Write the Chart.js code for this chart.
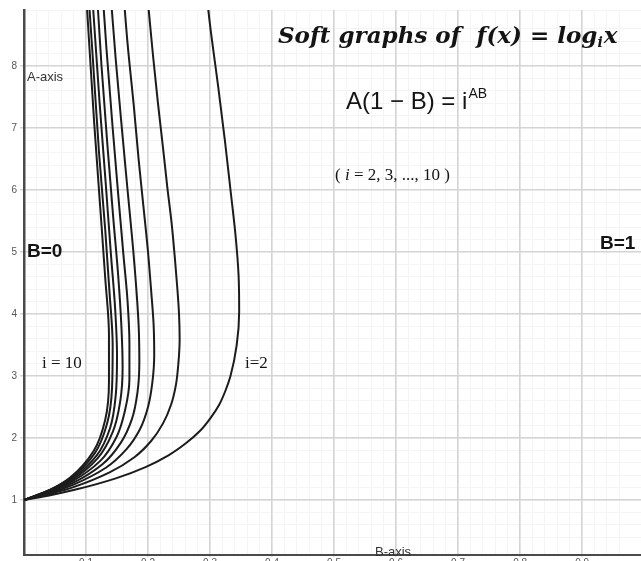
<!DOCTYPE html>
<html>
<head>
<meta charset="utf-8">
<script src="https://cdn.jsdelivr.net/npm/chart.js@4"></script>
<style>
  html, body { margin: 0; padding: 0; background: #fff; overflow: hidden; }
  #wrap { width: 641px; height: 561px; overflow: hidden; }
</style>
</head>
<body>
<div id="wrap"><canvas id="chart" width="641" height="575"></canvas></div>
<script>
// curves A(1 - B) = i^(AB): B (horizontal) and A (vertical)
const BASES = [2, 3, 4, 5, 6, 7, 8, 9, 10];

const B_I2 = [0, 0.046, 0.085, 0.148, 0.196, 0.233, 0.261, 0.284, 0.301, 0.315, 0.325, 0.333, 0.343, 0.347, 0.346, 0.341, 0.333, 0.324, 0.313, 0.300, 0.294];
const A_I2 = [1, 1.085, 1.172, 1.349, 1.531, 1.720, 1.914, 2.116, 2.325, 2.541, 2.766, 3.000, 3.497, 4.039, 4.631, 5.282, 6.000, 6.795, 7.678, 8.663, 9.198];

const B_I3 = [0, 0.045, 0.082, 0.138, 0.178, 0.205, 0.224, 0.237, 0.245, 0.249, 0.251, 0.250, 0.247, 0.243, 0.238, 0.231, 0.224, 0.216, 0.208, 0.200];
const A_I3 = [1, 1.106, 1.216, 1.446, 1.690, 1.952, 2.232, 2.533, 2.858, 3.208, 3.588, 4.000, 4.448, 4.937, 5.471, 6.056, 6.696, 7.400, 8.173, 9.025];

const B_I4 = [0, 0.045, 0.080, 0.132, 0.165, 0.187, 0.200, 0.207, 0.210, 0.209, 0.205, 0.200, 0.193, 0.185, 0.177, 0.167, 0.158];
const A_I4 = [1, 1.122, 1.249, 1.520, 1.816, 2.141, 2.500, 2.897, 3.339, 3.831, 4.382, 5.000, 5.695, 6.478, 7.363, 8.364, 9.500];

const B_I5 = [0, 0.044, 0.079, 0.127, 0.156, 0.174, 0.183, 0.186, 0.185, 0.181, 0.175, 0.167, 0.158, 0.148, 0.141];
const A_I5 = [1, 1.134, 1.275, 1.580, 1.921, 2.304, 2.736, 3.227, 3.785, 4.424, 5.157, 6.000, 6.973, 8.099, 8.991];

const B_I6 = [0, 0.044, 0.077, 0.123, 0.149, 0.163, 0.170, 0.170, 0.167, 0.160, 0.152, 0.143, 0.133, 0.128];
const A_I6 = [1, 1.144, 1.296, 1.631, 2.012, 2.448, 2.950, 3.530, 4.205, 4.993, 5.916, 7.000, 8.278, 9.001];

const B_I7 = [0, 0.043, 0.076, 0.119, 0.143, 0.155, 0.159, 0.157, 0.152, 0.144, 0.135, 0.125, 0.115];
const A_I7 = [1, 1.152, 1.315, 1.676, 2.093, 2.578, 3.146, 3.814, 4.605, 5.543, 6.662, 8.000, 9.603];

const B_I8 = [0, 0.043, 0.075, 0.117, 0.139, 0.148, 0.150, 0.147, 0.140, 0.132, 0.122, 0.111];
const A_I8 = [1, 1.160, 1.331, 1.716, 2.166, 2.697, 3.328, 4.082, 4.987, 6.078, 7.398, 9.000];

const B_I9 = [0, 0.043, 0.074, 0.114, 0.134, 0.142, 0.143, 0.138, 0.131, 0.121, 0.111, 0.105];
const A_I9 = [1, 1.166, 1.346, 1.752, 2.233, 2.808, 3.500, 4.337, 5.356, 6.600, 8.125, 9.014];

const B_I10 = [0, 0.043, 0.074, 0.112, 0.131, 0.137, 0.137, 0.131, 0.123, 0.113, 0.101];
const A_I10 = [1, 1.172, 1.359, 1.785, 2.295, 2.912, 3.662, 4.581, 5.712, 7.110, 9.038];

const CURVE_B = [B_I2, B_I3, B_I4, B_I5, B_I6, B_I7, B_I8, B_I9, B_I10];
const CURVE_A = [A_I2, A_I3, A_I4, A_I5, A_I6, A_I7, A_I8, A_I9, A_I10];

const X_TICKS = [0.1, 0.2, 0.3, 0.4, 0.5, 0.6, 0.7, 0.8, 0.9];
const Y_TICKS = [1, 2, 3, 4, 5, 6, 7, 8];

const datasets = BASES.map((base, k) => ({
  label: "i=" + base,
  data: CURVE_B[k].map((b, j) => ({ x: b, y: CURVE_A[k][j] })),
  borderColor: "#1c1c1c",
  borderWidth: 2,
  pointRadius: 0,
  cubicInterpolationMode: "monotone", // A grows along each curve, so smooth along y
  fill: false
}));

// text drawn on the sheet, like the geogebra labels
const labelPlugin = {
  id: "sheetLabels",
  afterDraw(chart) {
    const ctx = chart.ctx;
    ctx.save();
    ctx.fillStyle = "#141414";
    ctx.textBaseline = "alphabetic";
    ctx.textAlign = "left";

    // title
    let x = 278;
    ctx.font = "bold italic 23px 'DejaVu Serif'";
    const t1 = "Soft graphs of  f(x) = log";
    ctx.fillText(t1, x, 43);
    x += ctx.measureText(t1).width;
    ctx.font = "bold italic 14px 'DejaVu Serif'";
    ctx.fillText("i", x, 47);
    x += ctx.measureText("i").width + 1;
    ctx.font = "bold italic 23px 'DejaVu Serif'";
    ctx.fillText("x", x, 43);

    // equation
    x = 346;
    ctx.font = "24px 'Liberation Sans'";
    const e1 = "A(1 \u2212 B) = i";
    ctx.fillText(e1, x, 109);
    x += ctx.measureText(e1).width + 1;
    ctx.font = "14px 'Liberation Sans'";
    ctx.fillText("AB", x, 98);

    // ( i = 2, 3, ..., 10 )
    x = 335;
    ctx.font = "17px 'Liberation Serif'";
    ctx.fillText("( ", x, 180);
    x += ctx.measureText("( ").width;
    ctx.font = "italic 17px 'Liberation Serif'";
    ctx.fillText("i", x, 180);
    x += ctx.measureText("i").width;
    ctx.font = "17px 'Liberation Serif'";
    ctx.fillText(" = 2, 3, ..., 10 )", x, 180);

    ctx.font = "bold 19px 'Liberation Sans'";
    ctx.fillText("B=0", 27, 257);
    ctx.fillText("B=1", 600, 249);

    ctx.font = "17px 'Liberation Serif'";
    ctx.fillText("i = 10", 42, 368);
    ctx.fillText("i=2", 245, 368);

    ctx.fillStyle = "#333";
    ctx.font = "13px 'Liberation Sans'";
    ctx.fillText("A-axis", 27, 81);
    ctx.fillText("B-axis", 375, 556);
    ctx.restore();
  }
};

new Chart(document.getElementById("chart"), {
  type: "line",
  data: { datasets },
  plugins: [labelPlugin],
  options: {
    indexAxis: "y",
    responsive: false,
    animation: false,
    layout: { padding: { top: 10, right: 0, left: 0, bottom: 0 } },
    plugins: {
      legend: { display: false },
      tooltip: { enabled: false }
    },
    scales: {
      x: {
        type: "linear",
        position: "bottom",
        min: 0,
        max: 0.995,
        afterBuildTicks: (s) => { s.ticks = X_TICKS.map(v => ({ value: v })); },
        afterFit: (s) => { s.height = 20; },
        grid: { color: "#d4d4d4", lineWidth: 1.5, tickLength: 2, z: -1 },
        border: { color: "#4a4a4a", width: 2 },
        ticks: { color: "#555", font: { size: 10, family: "'Liberation Sans'" }, padding: 0, maxRotation: 0 }
      },
      y: {
        type: "linear",
        position: "left",
        min: 0.113,
        max: 8.903,
        afterBuildTicks: (s) => { s.ticks = Y_TICKS.map(v => ({ value: v })); },
        afterFit: (s) => { s.width = 24; },
        grid: { color: "#d4d4d4", lineWidth: 1.5, tickLength: 4, z: -1 },
        border: { color: "#4a4a4a", width: 2.5 },
        ticks: { color: "#555", font: { size: 10, family: "'Liberation Sans'" }, padding: 3 }
      },
      xMinor: {
        type: "linear",
        position: "bottom",
        min: 0,
        max: 0.995,
        afterFit: (s) => { s.height = 0; },
        grid: { color: "#f4f4f4", lineWidth: 1, drawTicks: false, z: -2 },
        border: { display: false },
        ticks: { display: false, stepSize: 0.02 }
      },
      yMinor: {
        type: "linear",
        position: "left",
        min: 0.113,
        max: 8.903,
        afterFit: (s) => { s.width = 0; },
        grid: { color: "#f4f4f4", lineWidth: 1, drawTicks: false, z: -2 },
        border: { display: false },
        ticks: { display: false, stepSize: 0.2 }
      }
    }
  }
});
</script>
</body>
</html>
